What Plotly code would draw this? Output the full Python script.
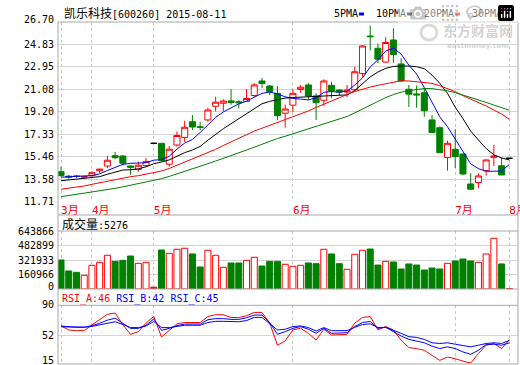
import plotly.graph_objects as go

W, H = 520, 365

# ---------------- data ----------------
idx = list(range(59))
month_idx = [0, 4, 12, 30, 51, 58]
month_labels = ['3月', '4月', '5月', '6月', '7月', '8月']

opens = [14.21,13.84,13.86,13.76,13.88,14.29,14.69,15.55,15.52,14.69,
         14.40,14.72,16.58,16.58,14.84,16.44,17.07,18.38,17.96,18.53,
         19.67,19.92,20.12,20.05,20.07,20.57,21.78,21.36,20.75,19.09,
         19.76,21.07,21.45,20.53,20.17,21.42,21.03,20.86,21.05,22.40,
         25.53,24.51,23.36,25.20,23.20,21.09,20.70,20.80,18.53,17.88,
         15.40,16.08,15.69,13.19,13.31,14.30,15.41,14.71,15.33]
highs = [14.63,13.94,13.95,13.88,14.25,14.45,15.52,15.86,15.60,14.72,
         15.05,15.35,16.58,16.58,16.37,17.57,18.46,18.94,18.38,19.55,
         20.47,20.25,21.10,20.20,21.11,21.61,22.03,21.45,21.36,19.82,
         21.09,21.45,21.60,20.75,21.92,21.72,21.10,21.45,22.97,24.78,
         26.41,24.90,25.42,26.17,23.68,21.45,21.40,21.20,18.94,17.98,
         16.80,17.76,15.72,14.08,14.08,15.25,16.44,15.40,15.33]
lows = [13.80,13.62,13.70,13.66,13.80,14.08,14.50,15.25,14.72,13.95,
        14.20,14.60,16.58,15.05,14.63,16.30,16.69,17.69,17.68,18.38,
        19.25,19.28,19.80,19.50,20.05,20.47,21.20,20.60,18.50,17.90,
        19.19,20.80,20.20,18.53,19.70,20.34,20.60,20.45,20.98,22.14,
        24.32,23.26,23.29,23.30,21.70,19.61,19.56,18.80,17.46,15.78,
        14.30,14.52,13.95,12.75,12.83,13.88,14.69,13.94,15.33]
closes = [13.88,13.76,13.82,13.80,14.13,14.43,15.17,15.38,14.92,14.58,
          14.75,15.07,16.58,15.15,16.09,17.23,17.92,17.94,17.90,19.36,
          20.01,20.11,19.98,19.96,20.32,21.45,21.57,20.89,18.89,19.44,
          20.75,21.26,20.53,19.97,21.78,20.95,20.86,21.02,22.55,24.70,
          25.48,23.60,24.99,23.99,21.78,20.68,20.62,19.30,17.48,15.80,
          16.58,15.47,14.02,12.75,13.86,15.19,15.52,13.94,15.33]

ma5 = [13.75,13.80,13.86,13.86,13.88,14.03,14.31,14.59,14.83,14.91,
       14.93,14.96,15.18,15.21,15.50,16.10,16.60,16.90,17.48,18.15,
       18.75,19.20,19.55,19.87,20.10,20.45,20.75,20.86,20.70,20.46,
       20.32,20.27,20.20,20.37,20.84,20.90,20.84,20.93,21.44,22.03,
       22.95,23.55,24.27,24.53,24.02,23.10,22.36,21.23,19.95,18.79,
       17.96,16.91,15.83,14.87,14.47,14.25,14.25,14.27,14.82]
ma10 = [13.46,13.52,13.58,13.63,13.71,13.80,14.00,14.20,14.35,14.38,
        14.45,14.62,14.88,15.02,15.20,15.50,15.80,16.02,16.32,16.84,
        17.34,17.80,18.22,18.63,19.10,19.52,19.88,20.08,20.22,20.35,
        20.40,20.44,20.47,20.50,20.55,20.58,20.58,20.62,20.98,21.55,
        22.12,22.53,22.83,23.00,23.03,23.03,22.97,22.81,22.27,21.59,
        20.75,19.59,18.64,17.60,16.86,16.15,15.62,15.35,15.20]
ma20 = [12.75,12.83,12.91,13.02,13.16,13.30,13.44,13.58,13.71,13.80,
        13.88,14.02,14.13,14.27,14.48,14.75,15.02,15.28,15.52,15.77,
        16.08,16.40,16.72,17.00,17.30,17.60,17.84,18.05,18.27,18.50,
        18.75,19.00,19.28,19.57,19.85,20.13,20.40,20.65,20.90,21.10,
        21.27,21.42,21.55,21.70,21.80,21.78,21.72,21.66,21.58,21.39,
        21.17,20.89,20.56,20.28,20.00,19.69,19.36,19.02,18.58]
ma30 = [12.13,12.22,12.31,12.40,12.50,12.60,12.70,12.82,12.95,13.08,
        13.21,13.35,13.48,13.63,13.82,14.02,14.22,14.43,14.65,14.88,
        15.10,15.32,15.55,15.78,16.02,16.25,16.50,16.75,16.98,17.17,
        17.38,17.60,17.80,18.00,18.22,18.42,18.62,18.82,19.12,19.45,
        19.80,20.10,20.39,20.65,20.85,20.98,21.09,21.15,21.14,21.06,
        20.96,20.81,20.62,20.42,20.20,19.99,19.77,19.54,19.34]

volumes = [322000,200000,185000,152000,263000,296000,374000,307000,318000,366000,
           285000,296000,20000,433000,396000,441000,452000,389000,244000,430000,
           374000,241000,289000,289000,318000,352000,255000,307000,307000,274000,
           252000,263000,289000,281000,441000,389000,281000,219000,385000,430000,
           444000,266000,307000,300000,222000,278000,266000,211000,233000,222000,
           285000,311000,333000,311000,296000,389000,563000,278000,5276]

rsi_a = [63.7,58.5,57.6,57.6,65.0,71.5,78.5,80.1,65.0,52.9,
         56.3,67.2,75.7,49.5,58.5,66.3,68.0,68.0,68.0,75.7,
         77.9,77.9,74.4,74.4,76.6,80.9,80.9,67.2,39.0,44.6,
         58.5,60.7,54.2,45.5,59.4,52.0,52.0,52.9,67.2,74.4,
         75.7,58.5,62.8,58.5,45.5,36.0,34.7,32.5,26.1,19.6,
         23.9,21.8,18.7,16.1,28.3,39.0,41.2,34.7,46.0]
rsi_b = [63.5,62.5,62,62,64,67,71,73.5,66.5,60.5,
         60.5,64.5,72.5,58,60.5,64,66,66,66,71.5,
         73,73,72,72,74,77.5,77.5,68,53,56.3,
         60.6,62.8,59.4,54.2,60.6,54.2,54.2,55,62.8,68,
         69.3,60.6,61.9,56.3,50.7,46.4,44.7,42.1,37.8,34.7,
         36.9,34.7,30.4,27.4,32.5,39.9,40.3,39,42]
rsi_c = [62.5,62.5,62,62,63,65,67.5,69,65.5,61.5,
         61.5,63.5,69.3,61.5,61.5,63,64.5,64.5,64.5,68,
         69.5,69.5,69,69,70.5,74.5,74.5,66.5,58.5,59.4,
         62.8,63.7,61.5,57.2,61.5,57.6,57.6,57.6,61.9,65.4,
         66.3,61.5,61.9,58.5,54.2,49.9,49,46.4,42.1,41.2,
         42.1,40.3,39,36.9,39,41.2,42.1,41.2,45]

price_ticks = [11.71, 13.58, 15.46, 17.33, 19.20, 21.08, 22.95, 24.83, 26.70]
price_labels = ['11.71', '13.58', '15.46', '17.33', '19.20', '21.08', '22.95', '24.83', '26.70']
vol_ticks = [0, 160966, 321933, 482899, 643866]
vol_labels = ['0', '160966', '321933', '482899', '643866']
rsi_ticks = [15, 52, 90]
rsi_labels = ['15', '52', '90']

title_name = '凯乐科技'
title_rest = '[600260] 2015-08-11'
vol_title = '成交量'
last_volume = 5276
rsi_last = {'RSI_A': 46, 'RSI_B': 42, 'RSI_C': 45}
ma_names = ['5PMA', '10PMA', '20PMA', '30PMA']

# ---------------- style ----------------
RED = '#FF0000'
GREEN = '#008000'
BLUE = '#0000FF'
BLACK = '#000000'
GRID = '#D4D4D4'
VGRID = '#C4C4C4'
FRAME = '#A8A8A8'
MONO = 'DejaVu Sans Mono, Noto Sans CJK SC'
WM = 'rgba(175,175,175,0.55)'


def py(p):
    return 1 - p / H


def pxx(p):
    return p / W


X_DOM = [pxx(58), pxx(518)]
X_RANGE = [-0.39, 59.12]

fig = go.Figure()

norm = [i for i in idx if opens[i] != closes[i]]
flat = [i for i in idx if opens[i] == closes[i]]

fig.add_trace(go.Candlestick(
    x=norm,
    open=[opens[i] for i in norm], high=[highs[i] for i in norm],
    low=[lows[i] for i in norm], close=[closes[i] for i in norm],
    increasing=dict(line=dict(color=RED, width=1), fillcolor='#FFFFFF'),
    decreasing=dict(line=dict(color=GREEN, width=1), fillcolor=GREEN),
    whiskerwidth=0, hoverinfo='skip', xaxis='x', yaxis='y'))
fig.add_trace(go.Candlestick(
    x=flat,
    open=[opens[i] for i in flat], high=[highs[i] for i in flat],
    low=[lows[i] for i in flat], close=[closes[i] for i in flat],
    increasing=dict(line=dict(color=BLACK, width=1), fillcolor=BLACK),
    decreasing=dict(line=dict(color=BLACK, width=1), fillcolor=BLACK),
    whiskerwidth=0, hoverinfo='skip', xaxis='x', yaxis='y'))

for vals, col in zip([ma5, ma10, ma20, ma30], [BLUE, BLACK, RED, GREEN]):
    fig.add_trace(go.Scatter(x=idx, y=vals, mode='lines',
                             line=dict(color=col, width=1),
                             hoverinfo='skip', xaxis='x', yaxis='y'))

up = [closes[i] >= opens[i] for i in idx]
tiny = [v < 30000 for v in volumes]
fig.add_trace(go.Bar(
    x=idx, y=volumes,
    marker=dict(color=[(RED if t else '#FFFFFF') if u else GREEN for u, t in zip(up, tiny)],
                line=dict(color=[RED if u else GREEN for u in up], width=1)),
    hoverinfo='skip', xaxis='x2', yaxis='y2'))

fig.add_trace(go.Scatter(x=idx, y=rsi_a, mode='lines', line=dict(color=RED, width=1),
                         hoverinfo='skip', xaxis='x3', yaxis='y3'))
fig.add_trace(go.Scatter(x=idx, y=rsi_c, mode='lines', line=dict(color=BLUE, width=1),
                         hoverinfo='skip', xaxis='x3', yaxis='y3'))
fig.add_trace(go.Scatter(x=idx, y=rsi_b, mode='lines', line=dict(color=BLUE, width=1),
                         hoverinfo='skip', xaxis='x3', yaxis='y3'))

xcommon = dict(range=X_RANGE, domain=X_DOM, tickvals=month_idx, showgrid=True,
               gridcolor=VGRID, griddash='3px,3px', gridwidth=1, zeroline=False,
               showline=False, ticks='', fixedrange=True)
ycommon = dict(showgrid=True, gridcolor=GRID, gridwidth=1, zeroline=False,
               showline=False, ticks='', showticklabels=False, fixedrange=True)

fig.update_layout(
    width=W, height=H,
    margin=dict(l=0, r=0, t=0, b=0, autoexpand=False),
    paper_bgcolor='white', plot_bgcolor='white',
    showlegend=False, hovermode=False,
    boxgap=0.22, boxgroupgap=0, bargap=0.22,
    xaxis=dict(**xcommon, anchor='y', ticktext=month_labels, showticklabels=True,
               ticklabelposition='outside right', ticklabeloverflow='allow',
               tickfont=dict(family=MONO, size=11, color=RED),
               rangeslider=dict(visible=False)),
    xaxis2=dict(**xcommon, anchor='y2', showticklabels=False),
    xaxis3=dict(**xcommon, anchor='y3', showticklabels=False),
    yaxis=dict(**ycommon, domain=[py(201.7), py(22)], range=[11.71, 26.70],
               tickvals=price_ticks, anchor='x'),
    yaxis2=dict(**ycommon, domain=[py(289), py(231)], range=[0, 643866],
                tickvals=vol_ticks, anchor='x2'),
    yaxis3=dict(**ycommon, domain=[py(364), py(305.3)], range=[15, 90],
                tickvals=rsi_ticks, anchor='x3'),
)

ann = []
lab_font = dict(family=MONO, size=10, color=BLACK)
for v, t in zip(price_ticks, price_labels):
    ann.append(dict(x=pxx(55.5), xref='paper', y=v, yref='y', text=t, showarrow=False,
                    xanchor='right', yanchor='middle', font=lab_font,
                    yshift=2 if v == price_ticks[-1] else 0))
for v, t in zip(vol_ticks, vol_labels):
    ann.append(dict(x=pxx(55.5), xref='paper', y=v, yref='y2', text=t, showarrow=False,
                    xanchor='right', yanchor='middle', font=lab_font,
                    yshift=3 if v == vol_ticks[0] else (-1 if v == vol_ticks[-1] else 0)))
for v, t in zip(rsi_ticks, rsi_labels):
    ann.append(dict(x=pxx(55.5), xref='paper', y=v, yref='y3', text=t, showarrow=False,
                    xanchor='right', yanchor='middle', font=lab_font,
                    yshift=4 if v == rsi_ticks[0] else (1 if v == rsi_ticks[-1] else 0)))

ann.append(dict(x=pxx(62), xref='paper', y=py(14), yref='paper', showarrow=False,
                xanchor='left', yanchor='middle', font=dict(family=MONO, size=10, color=BLACK),
                text='<span style="font-size:12px">' + title_name + '</span>' + title_rest))
leg_x = [332, 374, 422, 470]
sw_x = [359, 407, 455, 503]
for name, lx in zip(ma_names, leg_x):
    ann.append(dict(x=pxx(lx), xref='paper', y=py(14), yref='paper', showarrow=False,
                    xanchor='left', yanchor='middle', text=name,
                    font=dict(family=MONO, size=10, color=BLACK)))

ann.append(dict(x=pxx(60), xref='paper', y=py(224), yref='paper', showarrow=False,
                xanchor='left', yanchor='middle', font=dict(family=MONO, size=10, color=BLACK),
                text='<span style="font-size:12px">' + vol_title + '</span>:' + str(last_volume)))
ann.append(dict(x=pxx(60), xref='paper', y=py(299), yref='paper', showarrow=False,
                xanchor='left', yanchor='middle', font=dict(family=MONO, size=10, color=BLUE),
                text='<span style="color:#FF0000">RSI_A:%d</span> RSI_B:%d RSI_C:%d'
                     % (rsi_last['RSI_A'], rsi_last['RSI_B'], rsi_last['RSI_C'])))

# watermark
ann.append(dict(x=pxx(478), xref='paper', y=py(30), yref='paper', showarrow=False,
                xanchor='center', yanchor='middle', text='<b>东方财富网</b>',
                font=dict(family='Noto Sans CJK SC', size=14, color=WM)))
ann.append(dict(x=pxx(478), xref='paper', y=py(46), yref='paper', showarrow=False,
                xanchor='center', yanchor='middle', text='<b>eastmoney.com</b>',
                font=dict(family='DejaVu Sans', size=7, color=WM)))

fig.update_layout(annotations=ann)

shapes = []
for sx, col in zip(sw_x, [BLUE, BLACK, RED, GREEN]):
    shapes.append(dict(type='rect', xref='paper', yref='paper', x0=pxx(sx), x1=pxx(sx + 5),
                       y0=py(15.5), y1=py(12.5), fillcolor=col, line=dict(width=0)))
for yy in [22, 215, 231, 289, 305.3, 364]:
    shapes.append(dict(type='line', xref='paper', yref='paper', x0=pxx(58), x1=pxx(518),
                       y0=py(yy), y1=py(yy), line=dict(color=FRAME, width=1)))
for xx in [58, 518]:
    shapes.append(dict(type='line', xref='paper', yref='paper', x0=pxx(xx), x1=pxx(xx),
                       y0=py(22), y1=py(364), line=dict(color=FRAME, width=1)))
shapes.append(dict(type='circle', xref='paper', yref='paper', x0=pxx(421), x1=pxx(437),
                   y0=py(40), y1=py(25), line=dict(color='rgba(175,175,175,0.45)', width=3)))
fig.update_layout(shapes=shapes)

fig.write_html('out.html', post_script="document.body.style.margin='0px';")
